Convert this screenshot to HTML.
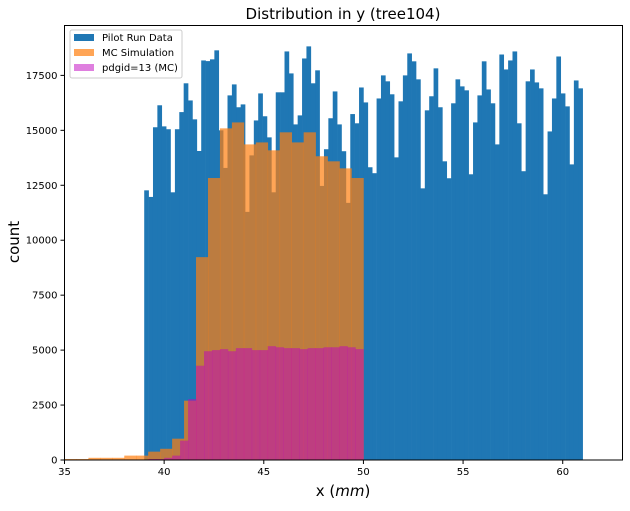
<!DOCTYPE html>
<html><head><meta charset="utf-8"><style>
body{margin:0;background:#fff;width:630px;height:506px;overflow:hidden}
svg{font-family:"DejaVu Sans","Liberation Sans",sans-serif}
</style></head><body>
<svg id="chart" width="630" height="506" viewBox="0 0 630 506">
<text x="343" y="19" font-size="15" text-anchor="middle">Distribution in y (tree104)</text>
<g id="bars"></g>
<rect x="64.5" y="25.5" width="558" height="434.5" fill="none" stroke="#000" stroke-width="1"/>
<g id="axes"></g>
<text x="343" y="496" font-size="15" text-anchor="middle">x (<tspan font-style="italic">mm</tspan>)</text>
<text transform="translate(19,242) rotate(-90)" font-size="15" text-anchor="middle">count</text>
<g>
<rect x="70" y="30" width="112" height="48" rx="2" fill="#fff" fill-opacity="0.8" stroke="#ccc"/>
<rect x="74" y="34" width="20" height="7" fill="#1f77b4"/>
<text x="102" y="41" font-size="10">Pilot Run Data</text>
<rect x="74" y="49" width="20" height="7" fill="#ff7f0e" fill-opacity="0.7"/>
<text x="102" y="56" font-size="10">MC Simulation</text>
<rect x="74" y="64" width="20" height="7" fill="#bf00bf" fill-opacity="0.5"/>
<text x="102" y="71" font-size="10">pdgid=13 (MC)</text>
</g>
</svg>
<script>
const pilotStart = 39, pilotWidth = 0.22;
const pilotCounts = [12270,11970,15140,16140,15180,15050,12180,15050,15830,17140,16360,15500,14060,18180,18150,18230,18640,15000,13290,16590,17090,16050,16180,11290,13860,15450,16680,15640,14680,12180,16730,16730,18590,17590,15270,15680,18270,18820,17140,17730,12470,14140,15550,16770,15270,14050,11700,15740,15320,16950,16270,13320,13050,16450,17500,17230,16640,13770,16320,17500,18500,18140,17320,12360,15910,16550,17820,16050,13590,12820,16230,17320,17000,16820,13000,15360,16590,18140,16860,16230,14360,18450,17770,18180,18590,15320,13140,17230,17770,17180,16910,12090,14950,16450,18360,16680,16090,13450,17270,16910];
const mcStart = 35.0, mcWidth = 0.6;
const mcCounts = [45,45,100,100,100,200,200,380,510,970,2700,9230,12830,15090,15360,14360,14450,14090,14910,14450,14910,13820,13590,13270,12830];
const muStart = 39.2, muWidth = 0.4;
const muCounts = [45,45,100,200,880,2770,4290,4950,5000,5045,4950,5090,5090,5000,5000,5180,5130,5090,5090,5045,5090,5090,5130,5130,5180,5130,5045];
const xTicks = [35,40,45,50,55,60];
const yTicks = [0,2500,5000,7500,10000,12500,15000,17500];

const X0=64.5, X1=622.5, Y0=460, Y1=25.5, xmin=35, xmax=63, ymax=19770;
const xs = v => X0 + (v-xmin)/(xmax-xmin)*(X1-X0);
const ys = v => Y0 - v/ymax*(Y0-Y1);
const NS="http://www.w3.org/2000/svg";
const bars=document.getElementById('bars'), axes=document.getElementById('axes');
function drawSeries(start,w,counts,color,op,name){
  const g=document.createElementNS(NS,'g');
  g.setAttribute('fill-opacity',op);
  counts.forEach((c,i)=>{
    const r=document.createElementNS(NS,'rect');
    const x=xs(start+i*w), x2=xs(start+(i+1)*w);
    r.setAttribute('x',x); r.setAttribute('width',x2-x+0.3);
    r.setAttribute('y',ys(c)); r.setAttribute('height',Y0-ys(c));
    r.setAttribute('fill',color);
    
    
    g.appendChild(r);
  });
  bars.appendChild(g);
}
drawSeries(pilotStart,pilotWidth,pilotCounts,'#1f77b4',1,'pilot');
drawSeries(mcStart,mcWidth,mcCounts,'#ff7f0e',0.7,'mc');
drawSeries(muStart,muWidth,muCounts,'#bf00bf',0.5,'pdgid13');
xTicks.forEach(t=>{
  const l=document.createElementNS(NS,'line');
  l.setAttribute('x1',xs(t));l.setAttribute('x2',xs(t));l.setAttribute('y1',Y0);l.setAttribute('y2',Y0+4);l.setAttribute('stroke','#000');
  
  
  axes.appendChild(l);
  const tx=document.createElementNS(NS,'text');
  tx.setAttribute('x',xs(t));tx.setAttribute('y',Y0+15);tx.setAttribute('font-size','10');tx.setAttribute('text-anchor','middle');
  tx.textContent=t;
  
  
  axes.appendChild(tx);
});
yTicks.forEach(t=>{
  const l=document.createElementNS(NS,'line');
  l.setAttribute('x1',X0-4);l.setAttribute('x2',X0);l.setAttribute('y1',ys(t));l.setAttribute('y2',ys(t));l.setAttribute('stroke','#000');
  
  
  axes.appendChild(l);
  const tx=document.createElementNS(NS,'text');
  tx.setAttribute('x',X0-7);tx.setAttribute('y',ys(t)+3.5);tx.setAttribute('font-size','10');tx.setAttribute('text-anchor','end');
  tx.textContent=t;
  
  
  axes.appendChild(tx);
});
</script>
</body></html>
